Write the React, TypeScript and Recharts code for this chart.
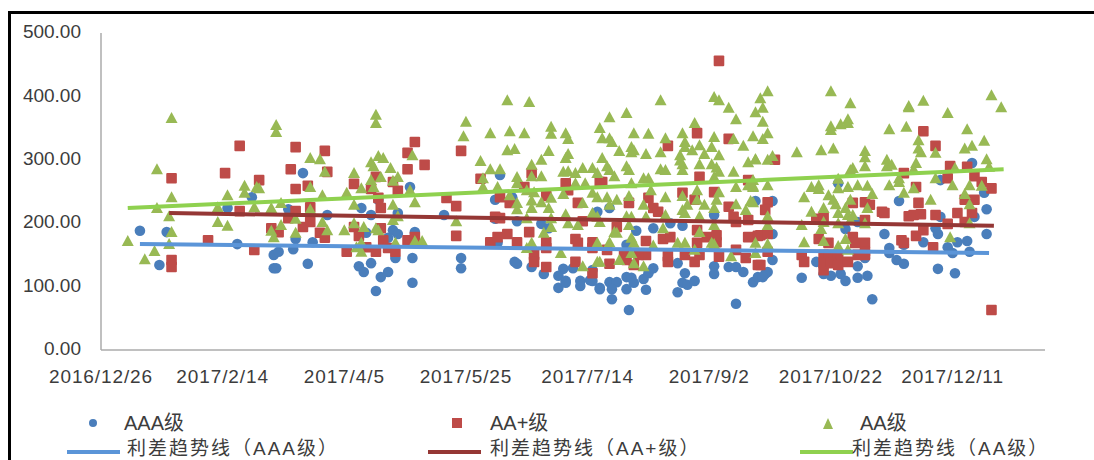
import React from "react";
import { ScatterChart, Scatter, XAxis, YAxis } from "recharts";

const dayTicks = [0, 50, 100, 150, 200, 250, 300, 350];
const dateLabels = ["2016/12/26", "2017/2/14", "2017/4/5", "2017/5/25", "2017/7/14", "2017/9/2", "2017/10/22", "2017/12/11"];
const valueTicks = [0, 100, 200, 300, 400, 500];

// [days since 2016/12/26, spread]
const aaaPoints: number[][] = [
  [16,188],[27,186],[24,134],[52,224],[56,167],[62,241],[71,129],[72,129],[71,150],[73,155],[79,159],[77,222],[80,175],[83,279],[87,170],[85,136],[93,213],
  [106,132],[108,123],[111,137],[115,115],[118,123],[113,93],[128,106],[128,145],[121,145],[127,257],[107,224],[122,216],[120,189],[122,183],[118,177],[129,186],[111,213],[114,237],[109,185],
  [141,213],[148,145],[148,129],[162,237],[164,276],[169,241],[162,207],[171,203],[181,199],[184,192],[170,139],[171,136],[177,131],[182,120],[190,128],[188,117],[191,109],[188,98],[191,106],[194,129],[197,109],[197,101],[202,126],[202,109],[205,98],[204,218],[163,169],
  [209,224],[220,188],[227,192],[234,200],[239,196],[252,213],[269,235],[201,110],[205,96],[209,107],[212,107],[210,96],[210,80],[216,115],[218,114],[216,96],[219,106],[223,112],[224,95],[225,121],[227,129],[217,63],[237,137],[240,121],[239,106],[241,103],[244,109],[237,91],[252,132],[252,120],[258,131],[261,131],[264,123],[268,107],[261,73],[270,115],[216,166],
  [276,235],[276,183],[276,142],[274,123],[273,120],[272,115],[288,114],[294,139],[297,120],[300,117],[304,120],[306,109],[311,114],[315,117],[311,132],[306,191],[317,80],[322,183],[328,235],[324,161],[324,153],[327,142],[330,136],[303,263],[314,145],[311,202],
  [338,170],[330,166],[344,128],[351,121],[345,268],[345,210],[343,192],[344,183],[348,162],[350,153],[352,170],[356,172],[357,155],[358,295],[364,222],[364,183],[363,248],[359,210],
];

const aaPlusPoints: number[][] = [
  [57,322],[51,279],[29,271],[65,268],[57,219],[44,173],[63,158],[29,142],[29,131],
  [80,320],[92,314],[78,285],[93,281],[85,259],[80,254],[86,225],[80,219],[86,202],[77,208],[70,192],[73,186],[83,194],[90,185],[92,177],
  [129,328],[126,311],[126,285],[133,292],[104,262],[113,273],[122,251],[120,265],[111,254],[114,240],[115,224],[104,194],[106,180],[115,192],[116,173],[126,173],[129,178],[101,155],[109,162],[113,155],[118,161],[121,155],
  [148,314],[156,270],[142,240],[146,227],[146,180],[164,241],[168,232],[162,210],[164,208],[160,170],[163,178],[167,183],[171,170],[176,186],[177,279],[174,257],[183,243],[191,263],[192,252],[196,232],[183,170],[183,161],[178,150],[178,139],[183,131],[195,175],[196,169],[195,139],[202,121],[202,170],[202,161],[198,203],[205,265],
  [254,456],[245,342],[258,333],[233,322],[206,265],[246,273],[239,248],[225,240],[217,232],[244,237],[227,224],[229,218],[258,226],[260,210],[261,202],[266,205],[252,249],[266,268],[212,194],[224,172],[231,175],[234,178],[245,189],[245,169],[249,178],[253,181],[253,170],[266,178],[270,180],[208,158],[215,150],[216,142],[219,134],[224,150],[221,150],[209,136],[233,139],[233,148],[240,150],[244,139],[246,150],[254,147],[265,145],[270,134],[261,158],
  [277,300],[330,279],[274,233],[273,221],[294,207],[297,210],[309,232],[314,233],[316,229],[321,218],[314,205],[271,181],[274,183],[332,211],[334,213],[336,232],[335,257],[295,175],[299,169],[309,178],[314,169],[310,169],[314,155],[329,173],[330,169],[335,180],[288,150],[289,139],[297,150],[299,150],[303,150],[297,137],[297,126],[300,137],[303,134],[307,139],[311,150],[314,150],[271,134],[274,155],
  [338,345],[343,322],[349,290],[356,289],[348,271],[359,274],[362,265],[366,255],[355,237],[359,237],[337,214],[343,213],[352,216],[358,216],[348,199],[355,202],[338,189],[342,162],[366,63],[322,216],
];

const aaPoints: number[][] = [
  [29,366],[23,285],[29,241],[52,244],[59,259],[59,248],[64,257],[65,255],[23,224],[28,211],[48,225],[63,225],[48,202],[52,196],[29,186],[11,172],[28,167],[22,156],[18,143],
  [72,355],[72,344],[113,371],[113,358],[86,303],[90,301],[92,281],[114,306],[116,303],[111,296],[112,290],[119,287],[104,279],[115,273],[122,273],[120,267],[111,268],[112,257],[107,255],[86,257],[101,248],[91,244],[128,307],[127,252],[129,233],[74,232],[120,229],[104,229],[70,224],[86,222],[80,207],[74,197],[91,202],[93,189],[104,200],[100,189],[108,194],[70,188],[71,178],[80,185],[113,192],[114,189],[120,205],[122,211],[121,169],[129,172],[132,172],[105,162],[107,155],[107,169],
  [167,394],[176,391],[150,360],[149,337],[160,342],[168,345],[174,342],[185,352],[185,341],[191,342],[192,333],[205,350],[167,315],[170,317],[184,314],[156,298],[181,300],[192,309],[191,303],[177,292],[160,285],[164,285],[198,287],[202,287],[190,281],[192,282],[195,279],[204,279],[177,274],[181,274],[171,273],[171,263],[157,271],[157,257],[163,257],[175,252],[178,249],[195,263],[199,263],[202,248],[190,246],[168,244],[177,236],[181,233],[185,240],[171,232],[171,222],[177,224],[184,224],[198,232],[175,208],[191,214],[202,214],[192,200],[196,197],[185,208],[185,194],[146,203],[182,185],[177,169],[175,161],[189,153],[198,132],[204,139],
  [230,394],[252,399],[254,394],[258,382],[209,367],[216,374],[261,364],[269,375],[244,358],[219,342],[225,341],[239,342],[206,334],[209,334],[210,328],[232,334],[252,336],[240,328],[240,320],[246,323],[260,333],[264,322],[268,337],[213,314],[218,320],[218,312],[219,315],[224,309],[230,312],[238,307],[238,299],[243,315],[248,309],[251,320],[254,307],[206,303],[216,290],[217,284],[208,290],[209,284],[211,274],[230,285],[232,284],[239,293],[239,284],[246,293],[251,293],[253,288],[254,281],[266,296],[269,301],[260,281],[223,271],[225,271],[218,263],[252,273],[261,257],[266,260],[268,257],[226,252],[245,252],[254,249],[204,241],[208,241],[217,243],[232,241],[239,243],[245,237],[253,237],[267,235],[212,237],[209,229],[223,229],[241,229],[248,229],[252,224],[261,230],[265,221],[239,221],[240,216],[204,210],[202,216],[205,202],[216,211],[218,210],[224,210],[232,213],[246,211],[252,197],[217,197],[231,192],[246,186],[211,186],[212,185],[218,177],[219,169],[204,169],[209,170],[237,169],[240,169],[251,169],[252,167],[269,169],[227,165],[218,153],[213,142],[205,139],[219,137],[223,132],[259,148],[269,153],[244,158],
  [274,408],[300,408],[271,397],[308,389],[332,385],[272,382],[272,360],[307,364],[307,358],[300,353],[300,347],[304,356],[324,348],[331,352],[274,342],[272,333],[286,312],[296,315],[301,318],[314,314],[314,304],[314,290],[269,301],[274,300],[276,306],[309,287],[308,284],[323,300],[323,290],[325,292],[335,295],[336,331],[336,318],[337,312],[303,270],[328,271],[328,265],[295,260],[292,257],[295,254],[303,255],[307,257],[311,260],[315,259],[324,260],[274,260],[268,259],[268,268],[334,255],[330,248],[289,241],[299,244],[301,237],[302,230],[308,237],[317,246],[297,224],[292,218],[306,224],[315,224],[303,216],[307,213],[309,213],[274,211],[297,202],[314,200],[288,197],[303,200],[308,205],[296,191],[274,197],[268,233],[306,175],[297,172],[289,170],[274,167],[303,164],[307,158],
  [366,402],[370,383],[338,393],[332,383],[348,374],[356,348],[343,311],[363,330],[355,318],[358,322],[364,301],[334,285],[365,289],[351,287],[343,271],[350,260],[357,260],[362,259],[355,246],[341,237],[357,230],[357,200],[349,178],
];

const aaaTrend = [[16,167],[365,153]];
const aaPlusTrend = [[28,216],[367,196]];
const aaTrend = [[11,224],[371,285]];

const legendMarks = ["AAA级", "AA+级", "AA级"];
const legendLines = ["利差趋势线（AAA级）", "利差趋势线（AA+级）", "利差趋势线（AA级）"];

const BLUE = "#4A7EBB";
const RED = "#BE4B48";
const GREEN = "#98B954";
const textColor = "#3c3c3c";
const font = "'Liberation Sans', 'Noto Sans CJK SC', sans-serif";

const toPts = (a: number[][]) => a.map(([day, val]) => ({ day, val }));

const Dot = (p: any) => <circle cx={p.cx} cy={p.cy} r={5.3} fill={BLUE} />;
const Sq = (p: any) => <rect x={p.cx - 5.3} y={p.cy - 5.3} width={10.6} height={10.6} rx={1} fill={RED} />;
const Tri = (p: any) => <path d={`M${p.cx} ${p.cy - 6}L${p.cx + 6} ${p.cy + 5}L${p.cx - 6} ${p.cy + 5}Z`} fill={GREEN} />;
const None = () => <g />;

const markX = [93, 457, 828];
const textX = [124, 490, 860];
const lineX = [[67, 120], [428, 481], [800, 853]];
const lineText = [127, 490, 852];
const lineCols = ["#5B95D8", "#953735", "#8FD14F"];

const LegendBox = () => (
  <svg width={1094} height={460} style={{ position: "absolute", left: 0, top: 0, pointerEvents: "none" }} fontFamily={font} fontSize={20} fill={textColor}>
    <circle cx={markX[0]} cy={423} r={4} fill={BLUE} />
    <rect x={markX[1] - 5} y={418} width={10} height={10} fill={RED} />
    <path d={`M${markX[2]} 418L${markX[2] + 5} 429L${markX[2] - 5} 429Z`} fill={GREEN} />
    {legendMarks.map((t, i) => (
      <text key={t} x={textX[i]} y={430}>{t}</text>
    ))}
    {legendLines.map((t, i) => (
      <g key={t}>
        <line x1={lineX[i][0]} x2={lineX[i][1]} y1={452} y2={452} stroke={lineCols[i]} strokeWidth={4} />
        <text x={lineText[i]} y={455} fontSize={19} letterSpacing={2}>{t}</text>
      </g>
    ))}
  </svg>
);

export default function App() {
  return (
    <div style={{ position: "fixed", left: 0, top: 0, width: 1094, height: 460, overflow: "hidden", background: "#fff" }}>
      <div style={{ position: "absolute", left: 8, top: 11, width: 1086, height: 449, borderLeft: "3px solid #000", borderTop: "3px solid #000", boxSizing: "border-box" }} />
      <div style={{ position: "absolute", left: 0, top: 0 }}>
        <ScatterChart width={1094} height={460} margin={{ top: 33, right: 49, bottom: 0, left: 0 }}>
          <XAxis
            type="number"
            dataKey="day"
            domain={[0, 388]}
            ticks={dayTicks}
            interval={0}
            tickFormatter={(_: number, i: number) => dateLabels[i]}
            tickLine={false}
            tickMargin={14}
            height={110}
            axisLine={{ stroke: "#ABABAB", strokeWidth: 1.5 }}
            tick={{ fontFamily: font, fontSize: 19, fill: textColor, letterSpacing: 0.9 }}
          />
          <YAxis
            type="number"
            dataKey="val"
            domain={[0, 500]}
            ticks={valueTicks}
            interval={0}
            width={101}
            tickFormatter={(v: number) => v.toFixed(2)}
            tickLine={false}
            tickMargin={14}
            axisLine={{ stroke: "#ABABAB", strokeWidth: 1.5 }}
            tick={{ fontFamily: font, fontSize: 19, fill: textColor, dy: -1.5 }}
          />
          <Scatter name="AAA级" data={toPts(aaaPoints)} shape={Dot} isAnimationActive={false} />
          <Scatter name="AA+级" data={toPts(aaPlusPoints)} shape={Sq} isAnimationActive={false} />
          <Scatter name="AA级" data={toPts(aaPoints)} shape={Tri} isAnimationActive={false} />
          <Scatter name="利差趋势线（AAA级）" data={toPts(aaaTrend)} line={{ stroke: lineCols[0], strokeWidth: 4 }} shape={None} isAnimationActive={false} />
          <Scatter name="利差趋势线（AA+级）" data={toPts(aaPlusTrend)} line={{ stroke: lineCols[1], strokeWidth: 4 }} shape={None} isAnimationActive={false} />
          <Scatter name="利差趋势线（AA级）" data={toPts(aaTrend)} line={{ stroke: lineCols[2], strokeWidth: 4 }} shape={None} isAnimationActive={false} />
        </ScatterChart>
      </div>
      <LegendBox />
    </div>
  );
}
